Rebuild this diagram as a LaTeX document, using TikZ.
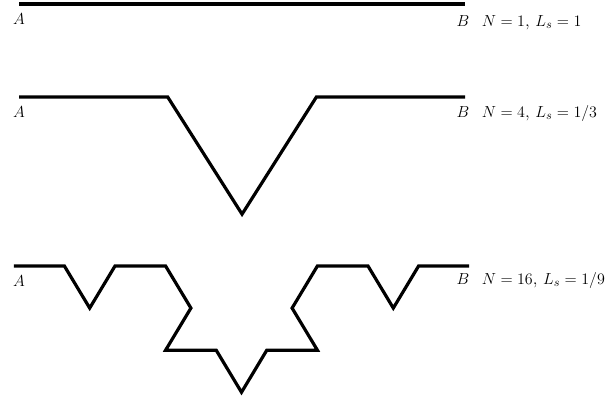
\documentclass[tikz,border=0pt]{standalone}
\usepackage{amsmath}
\usetikzlibrary{positioning}
\tikzset{curve/.style={line width=2.4pt, line join=miter},
  lbl/.style={inner sep=0pt, font=\fontsize{13}{15}\selectfont}}

\begin{document}
\begin{tikzpicture}[x=0.75pt,y=-0.75pt]
        \useasboundingbox (0,0) rectangle (616,399);
        % N = 1
        \coordinate (a1) at (19,4);
        \coordinate (b1) at (465,4);
        \draw[curve] (a1) -- (b1);
        \node[lbl] (la1) at (19,19) {$A$};
        \node[lbl] (lb1) at (463,21) {$B$};
        \node[lbl, right=9pt of lb1.base east, anchor=base west] (n1) {$N=1$, $L_s=1$};
        % N = 4
        \coordinate (a2) at (19,97);
        \draw[curve] (a2) foreach \d in {0,60,-60,0} { -- ++(\d:148.7 and 135.3) } coordinate (b2);
        \node[lbl] (la2) at (19,112) {$A$};
        \node[lbl] (lb2) at (463,112) {$B$};
        \node[lbl, right=9pt of lb2.base east, anchor=base west] (n2) {$N=4$, $L_s=1/3$};
        % N = 16
        \coordinate (a3) at (13.8,266);
        \draw[curve] (a3) foreach \d in {0,60,-60,0, 60,120,0,60, -60,0,-120,-60, 0,60,-60,0}
          { -- ++(\d:50.6 and 48.6) } coordinate (b3);
        \node[lbl] (la3) at (19,281) {$A$};
        \node[lbl] (lb3) at (463,279) {$B$};
        \node[lbl, right=9pt of lb3.base east, anchor=base west] (n3) {$N=16$, $L_s=1/9$};
      \end{tikzpicture}
\end{document}
